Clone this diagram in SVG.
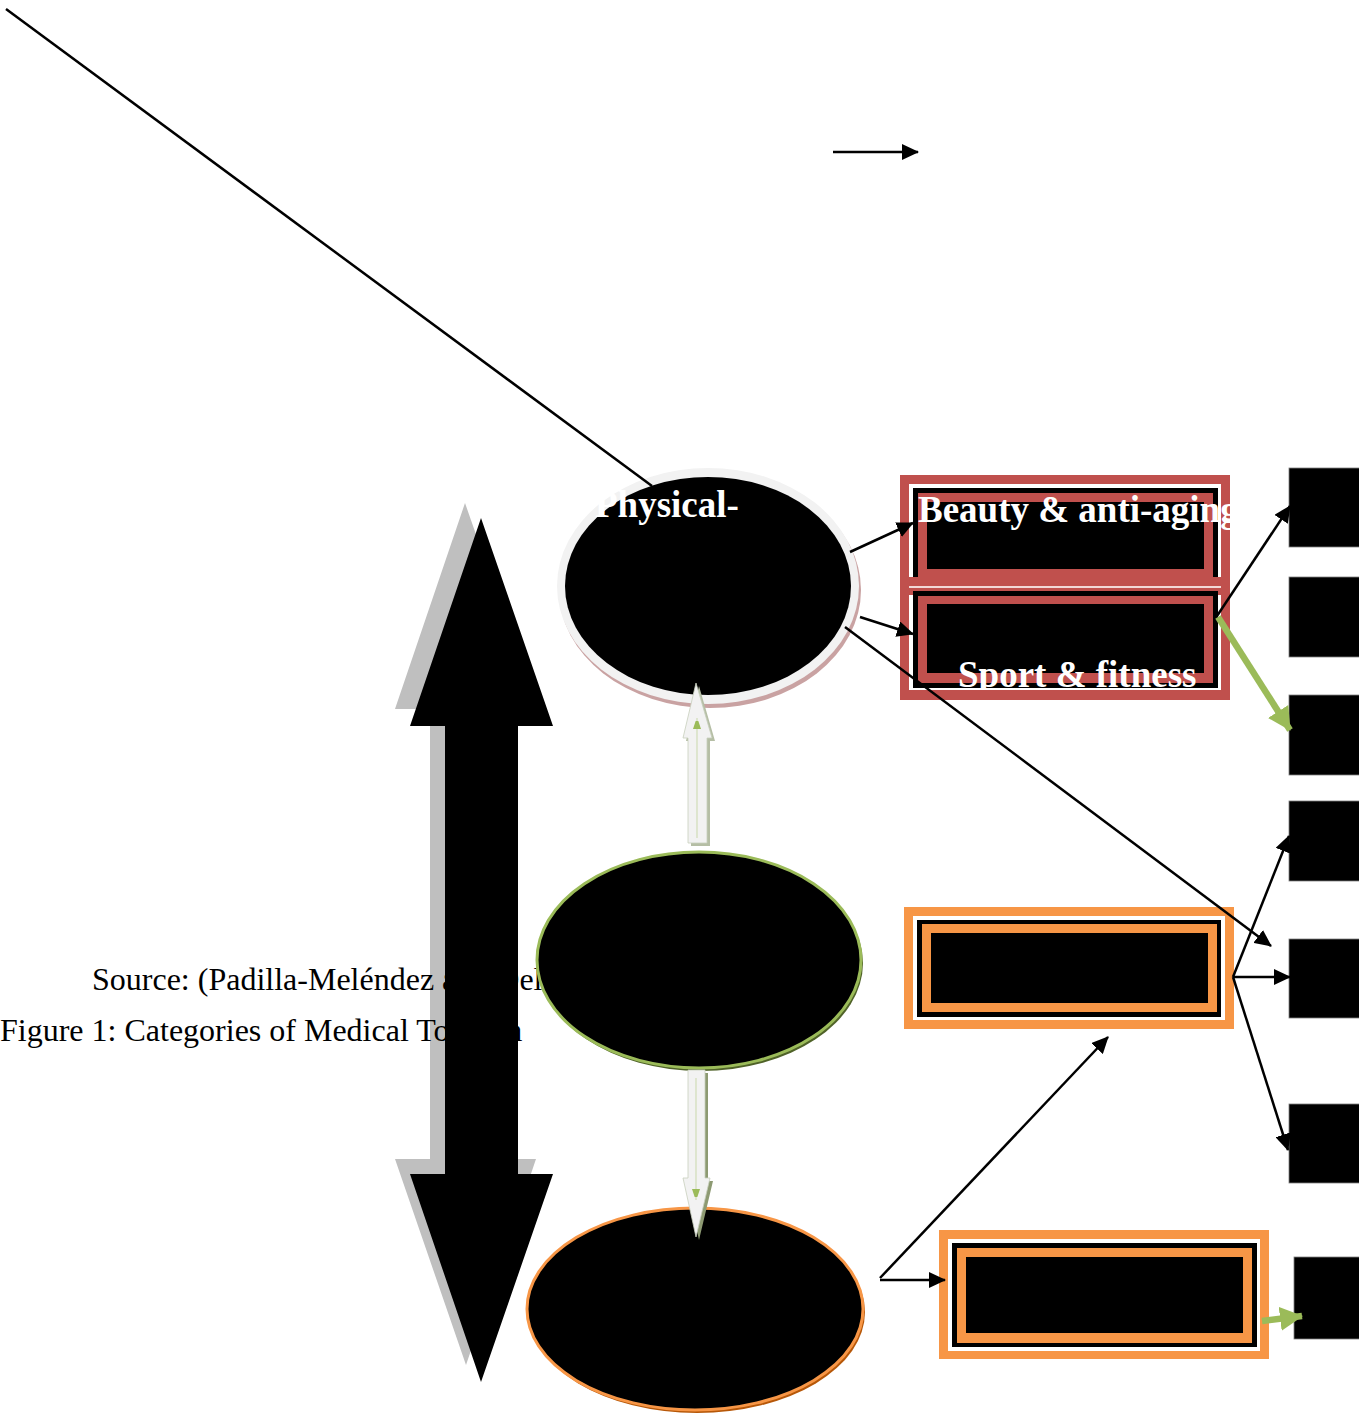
<svg xmlns="http://www.w3.org/2000/svg" width="1359" height="1415" viewBox="0 0 1359 1415">
  <style>
    .caption { font-family: "Liberation Serif", "Times New Roman", serif; font-size: 32px; fill: #000; }
    .label { font-family: "Liberation Serif", "Times New Roman", serif; font-size: 37px; font-weight: bold; fill: #fff; }
    .line { stroke: #000; stroke-width: 2.5; fill: none; }
    .green { stroke: #9bbb59; stroke-width: 6.5; fill: none; }
    .red { fill: #c0504d; }
    .orange { fill: #f79646; }
    .white { fill: #fff; }
    .black { fill: #000; }
    .sq { fill: #000; stroke: #7f7f7f; stroke-width: 0.8; }
  </style>
  <defs>
    <marker id="head" markerUnits="userSpaceOnUse" markerWidth="18" markerHeight="16" refX="16" refY="8" orient="auto">
      <path d="M0,0 L17,8 L0,16 z" fill="#000"/>
    </marker>
    <marker id="ghead" markerUnits="userSpaceOnUse" markerWidth="24" markerHeight="24" refX="22" refY="12" orient="auto">
      <path d="M0,0 L23,12 L0,24 z" fill="#9bbb59"/>
    </marker>
    <marker id="thinhead" markerUnits="userSpaceOnUse" markerWidth="8" markerHeight="12" refX="11" refY="4" orient="auto">
      <path d="M0,0 L12,4 L0,8 z" fill="#9bbb59"/>
    </marker>
    <clipPath id="sportClip">
      <rect x="900" y="590" width="340" height="98"/>
    </clipPath>
  </defs>

  <!-- shadow of the vertical double arrow -->
  <polygon points="465,503 537,709 502,709 502,1159 536,1159 466,1365 395,1159 430,1159 430,709 395,709" fill="#bfbfbf"/>

  <!-- caption lines -->
  <text class="caption" x="92" y="990">Source: (Padilla-Meléndez and Del</text>
  <text class="caption" x="0" y="1041">Figure 1: Categories of Medical Tourism</text>

  <!-- vertical double arrow -->
  <g id="scale-arrow">
    <polygon points="481,518 553,726 518,726 518,1174 553,1174 481,1382 410,1174 445,1174 445,726 410,726" fill="#000"/>
  </g>

  <!-- ellipse nodes -->
  <g id="node-physical">
    <ellipse cx="710" cy="590" rx="151" ry="118" fill="#c9a2a2"/>
    <ellipse cx="708" cy="586" rx="151" ry="118" fill="#f2f2f2"/>
    <ellipse cx="708" cy="586" rx="143" ry="109" fill="#000"/>
    <text class="label" x="595" y="517">Physical-</text>
  </g>

  <g id="node-middle">
    <ellipse cx="701" cy="963" rx="162" ry="108" fill="#4f6228"/>
    <ellipse cx="699" cy="960" rx="162" ry="108" fill="#000" stroke="#9bbb59" stroke-width="3"/>
  </g>

  <g id="node-bottom">
    <ellipse cx="697" cy="1312" rx="168" ry="101" fill="#b65708"/>
    <ellipse cx="695" cy="1309" rx="168" ry="101" fill="#000" stroke="#f79646" stroke-width="3"/>
  </g>

  <!-- red boxes -->
  <g id="box-beauty">
    <rect class="red" x="900" y="475" width="330" height="121"/>
    <rect class="white" x="909" y="484" width="312" height="103"/>
    <rect class="black" x="913" y="488" width="305" height="95"/>
    <rect class="red" x="918" y="493" width="295" height="85"/>
    <rect class="black" x="927" y="502" width="277" height="67"/>
    <text class="label" x="918" y="522">Beauty &amp; anti-aging</text>
  </g>

  <g id="box-sport">
    <rect class="red" x="900" y="577" width="330" height="123"/>
    <rect fill="#f2d8d7" x="909" y="586" width="312" height="2"/>
    <rect class="white" x="909" y="595" width="312" height="95"/>
    <rect class="black" x="913" y="591" width="305" height="97"/>
    <rect class="red" x="918" y="596" width="295" height="87"/>
    <rect class="black" x="927" y="604" width="277" height="69"/>
    <text class="label" x="958" y="687" clip-path="url(#sportClip)">Sport &amp; fitness</text>
  </g>

  <!-- orange boxes -->
  <g id="box-middle">
    <rect class="orange" x="904" y="907" width="330" height="122"/>
    <rect class="white" x="913" y="916" width="312" height="104"/>
    <rect class="black" x="917" y="920" width="304" height="97"/>
    <rect class="orange" x="922" y="924" width="295" height="88"/>
    <rect class="black" x="931" y="933" width="277" height="70"/>
  </g>

  <g id="box-bottom">
    <rect class="orange" x="939" y="1230" width="330" height="129"/>
    <rect class="white" x="948" y="1239" width="312" height="112"/>
    <rect class="black" x="952" y="1243" width="305" height="104"/>
    <rect class="orange" x="957" y="1248" width="295" height="95"/>
    <rect class="black" x="966" y="1257" width="277" height="76"/>
  </g>

  <!-- black squares on the right -->
  <g id="sq-1"><rect class="sq" x="1289" y="468" width="72" height="79"/></g>
  <g id="sq-2"><rect class="sq" x="1289" y="577" width="72" height="80"/></g>
  <g id="sq-3"><rect class="sq" x="1289" y="695" width="72" height="80"/></g>
  <g id="sq-4"><rect class="sq" x="1289" y="801" width="72" height="80"/></g>
  <g id="sq-5"><rect class="sq" x="1289" y="939" width="72" height="79"/></g>
  <g id="sq-6"><rect class="sq" x="1289" y="1104" width="72" height="79"/></g>
  <g id="sq-7"><rect class="sq" x="1294" y="1257" width="67" height="82"/></g>

  <!-- connectors -->
  <g id="connectors">
    <line class="line" x1="833" y1="152" x2="918" y2="152" marker-end="url(#head)"/>
    <line class="line" x1="6" y1="9" x2="652" y2="486"/>
    <line class="line" x1="845" y1="627" x2="1271" y2="946" marker-end="url(#head)"/>
    <line class="line" x1="850" y1="552" x2="913" y2="523" marker-end="url(#head)"/>
    <line class="line" x1="860" y1="617" x2="913" y2="634" marker-end="url(#head)"/>
    <line class="line" x1="1217" y1="616" x2="1290" y2="506" marker-end="url(#head)"/>
    <line class="green" x1="1218" y1="617" x2="1290" y2="730" marker-end="url(#ghead)"/>
    <line class="line" x1="1233" y1="977" x2="1289" y2="836" marker-end="url(#head)"/>
    <line class="line" x1="1233" y1="977" x2="1290" y2="977" marker-end="url(#head)"/>
    <line class="line" x1="1233" y1="977" x2="1288" y2="1150" marker-end="url(#head)"/>
    <line class="line" x1="880" y1="1278" x2="1108" y2="1037" marker-end="url(#head)"/>
    <line class="line" x1="880" y1="1280" x2="945" y2="1280" marker-end="url(#head)"/>
    <line class="green" x1="1262" y1="1321" x2="1302" y2="1316" marker-end="url(#ghead)"/>

    <!-- up block arrow between middle and top ellipse -->
    <polygon points="699,686 715,741 710,741 710,846 691,846 691,741 686,741" fill="#b5bea5"/>
    <polygon points="696,683 712,738 707,738 707,843 688,843 688,738 683,738" fill="#f2f2f2" stroke="#c8cfbc" stroke-width="0.8"/>
    <line x1="697" y1="838" x2="697" y2="718" stroke="#c9d8ab" stroke-width="1" marker-end="url(#thinhead)"/>

    <!-- down block arrow between middle and bottom ellipse -->
    <polygon points="691,1073 708,1073 708,1181 713,1181 699,1240 686,1181 691,1181" fill="#8d9a72"/>
    <polygon points="688,1070 705,1070 705,1178 710,1178 696,1237 683,1178 688,1178" fill="#f2f2f2" stroke="#c8cfbc" stroke-width="0.8"/>
    <line x1="696" y1="1078" x2="696" y2="1200" stroke="#c9d8ab" stroke-width="1" marker-end="url(#thinhead)"/>
  </g>
</svg>
